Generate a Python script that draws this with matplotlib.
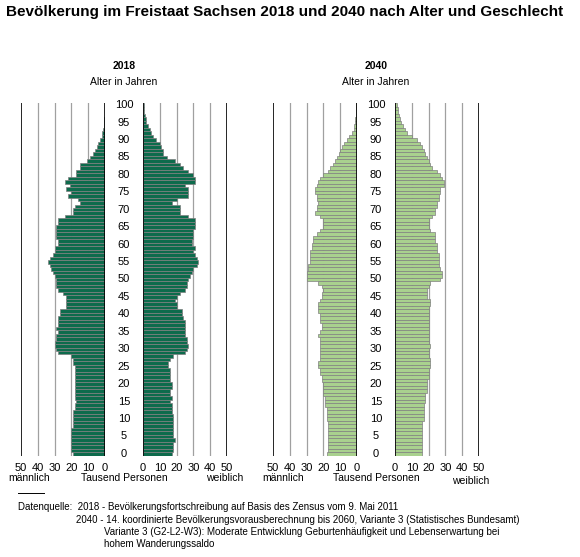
import matplotlib.pyplot as plt
import numpy as np

plt.rcParams['font.family'] = ['Liberation Sans', 'DejaVu Sans']

ages = np.arange(101)

m2018 = [19, 20, 20, 20, 20, 20, 20, 20, 19, 19, 19, 19, 19, 18, 18, 17, 18, 18, 18, 18,
         18, 18, 18, 18, 18, 18, 19, 19, 20, 28, 29, 30, 30, 29, 29, 28, 29, 28, 28, 28,
         27, 27, 23, 23, 23, 23, 25, 28, 29, 29, 29, 30, 31, 32, 33, 34, 33, 31, 30, 30,
         28, 28, 29, 29, 29, 29, 28, 28, 24, 19, 19, 18, 15, 16, 22, 20, 23, 21, 24, 22,
         17, 17, 15, 15, 11, 9, 7, 6, 5, 4, 3, 2, 1.5, 1, 0.6, 0.4, 0.3, 0.2, 0.1, 0.1, 0.1]
f2018 = [17, 18, 18, 18, 19, 18, 18, 18, 18, 18, 18, 18, 17, 17, 17, 16, 17, 16, 16, 17,
         17, 16, 16, 16, 16, 15, 15, 16, 18, 25, 26, 27, 26, 26, 25, 25, 25, 25, 25, 24,
         23, 23, 20, 20, 19, 20, 22, 25, 26, 26, 27, 28, 29, 30, 32, 33, 32, 31, 30, 31,
         29, 29, 30, 30, 30, 31, 31, 31, 27, 22, 22, 22, 17, 20, 27, 27, 27, 25, 31, 31,
         30, 27, 24, 22, 19, 14, 12, 12, 11, 10, 8, 6, 5, 4, 3, 2, 1.5, 1, 0.7, 0.5, 0.3]
m2040 = [18, 17, 17, 17, 17, 17, 17, 17, 17, 17, 18, 18, 18, 18, 19, 19, 19, 20, 20, 20,
         20, 21, 21, 22, 22, 23, 23, 22, 22, 22, 22, 22, 22, 22, 23, 22, 21, 21, 22, 22,
         22, 23, 23, 23, 22, 21, 21, 20, 21, 23, 30, 30, 30, 29, 29, 28, 28, 28, 28, 27,
         27, 26, 26, 24, 22, 20, 20, 20, 22, 25, 24, 24, 23, 24, 24, 25, 25, 24, 23, 22,
         20, 17, 16, 14, 13, 12, 11, 10, 9, 8, 6, 5, 3, 2, 1.5, 1.2, 1, 0.6, 0.5, 0.4, 0.3]
f2040 = [16, 16, 16, 16, 16, 16, 16, 16, 16, 16, 17, 17, 17, 17, 17, 18, 18, 18, 19, 19,
         19, 19, 20, 20, 20, 21, 21, 21, 20, 20, 20, 21, 20, 20, 20, 20, 20, 20, 20, 20,
         20, 20, 20, 21, 21, 19, 19, 19, 20, 21, 27, 28, 28, 27, 26, 26, 26, 26, 25, 25,
         25, 24, 24, 24, 21, 20, 20, 20, 22, 24, 24, 25, 25, 26, 26, 27, 27, 29, 29, 28,
         27, 25, 22, 21, 20, 19, 18, 17, 16, 15, 13, 10, 7, 6, 5, 3.5, 3, 2.5, 2, 1.5, 1]

dark = '#0D6B4C'
light = '#A9D18E'
edge = '#808080'

fig = plt.figure(figsize=(5.8, 5.57), dpi=100)
W, H = 580, 557


def panel(x0, vals, color, male):
    ax = fig.add_axes([x0 / W, 1 - 456 / H, 84 / W, 353 / H])
    ax.barh(ages, vals, height=1.0, color=color, edgecolor=edge, linewidth=0.5, zorder=3)
    ax.set_xlim((50, 0) if male else (0, 50))
    ax.set_ylim(-0.6, 100.6)
    for v in range(0, 51, 10):
        black = v in (0, 50)
        ax.axvline(v, color='black' if black else '#A0A0A0',
                   linewidth=1.2 if black else 0.9, zorder=4 if v == 0 else 2)
    ax.set_xticks(range(0, 51, 10))
    ax.tick_params(axis='x', length=0, labelsize=8, pad=5)
    ax.set_yticks([])
    for s in ax.spines.values():
        s.set_visible(False)
    ax.patch.set_alpha(0)
    return ax


panel(21, m2018, dark, True)
panel(143, f2018, dark, False)
panel(273, m2040, light, True)
panel(395, f2040, light, False)


def ft(x, y, s, **kw):
    fig.text(x / W, 1 - y / H, s, **kw)


for cx, yr in [(124, '2018'), (376, '2040')]:
    ft(cx, 66, yr, ha='center', va='center', fontsize=7.5, fontweight='bold')
    ft(cx, 82, 'Alter in Jahren', ha='center', va='center', fontsize=7.5)
    for a in range(0, 101, 5):
        y = 456 - (a + 0.6) / 101.2 * 353
        ft(cx, y, str(a), ha='center', va='center', fontsize=8)
    ft(cx, 478, 'Tausend Personen', ha='center', va='center', fontsize=7.5)

ft(8, 478, 'männlich', ha='left', va='center', fontsize=7.5)
ft(206, 478, 'weiblich', ha='left', va='center', fontsize=7.5)
ft(262, 478, 'männlich', ha='left', va='center', fontsize=7.5)
ft(452, 481, 'weiblich', ha='left', va='center', fontsize=7.5)

ft(6, 12, 'Bevölkerung im Freistaat Sachsen 2018 und 2040 nach Alter und Geschlecht',
   ha='left', va='center', fontsize=11, fontweight='bold')

fig.add_artist(plt.Line2D([18 / W, 44 / W], [1 - 493 / H] * 2, color='black', linewidth=0.7))
ft(18, 507, 'Datenquelle:  2018 - Bevölkerungsfortschreibung auf Basis des Zensus vom 9. Mai 2011',
   ha='left', va='center', fontsize=7)
ft(76, 520, '2040 - 14. koordinierte Bevölkerungsvorausberechnung bis 2060, Variante 3 (Statistisches Bundesamt)',
   ha='left', va='center', fontsize=7)
ft(104, 532, 'Variante 3 (G2-L2-W3): Moderate Entwicklung Geburtenhäufigkeit und Lebenserwartung bei',
   ha='left', va='center', fontsize=7)
ft(104, 544, 'hohem Wanderungssaldo', ha='left', va='center', fontsize=7)

fig.savefig('out.png', dpi=100)
